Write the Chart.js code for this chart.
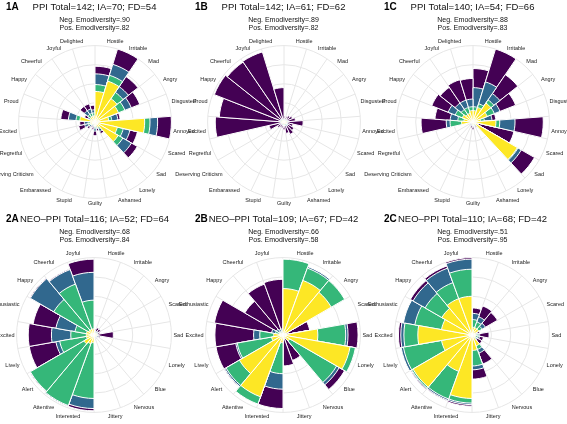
<!DOCTYPE html>
<html>
<head>
<meta charset="utf-8">
<script src="https://cdn.jsdelivr.net/npm/chart.js@4/dist/chart.umd.min.js"></script>
<style>
body { margin: 0; background: #fff; font-family: "Liberation Sans", Arial, sans-serif; }
#wrap { position: relative; width: 567px; height: 424px; overflow: hidden; }
.panel { position: absolute; width: 189px; height: 212px; }
.panel canvas { position: absolute; left: -18px; top: 0; }
.tag { position: absolute; left: 6px; top: 1px; font-weight: bold; font-size: 10px; }
</style>
</head>
<body>
<div id="wrap"></div>
<script>
// emotion categories
var ppiLabels = ['Hostile', 'Irritable', 'Mad', 'Angry', 'Disgusted', 'Annoyed', 'Scared', 'Sad', 'Lonely', 'Ashamed', 'Guilty', 'Stupid', 'Embarassed', 'Deserving Criticism', 'Regretful', 'Excited', 'Proud', 'Happy', 'Cheerful', 'Joyful', 'Delighted'];
var neoLabels = ['Hostile', 'Irritable', 'Angry', 'Scared', 'Sad', 'Lonely', 'Blue', 'Nervous', 'Jittery', 'Interested', 'Attentive', 'Alert', 'Lively', 'Excited', 'Enthusiastic', 'Happy', 'Cheerful', 'Joyful'];

// cumulative stack levels per panel (inner to outer: yellow, green, blue, purple)
var yellow1A = [40, 56, 37, 33, 18, 65, 30, 35, 8, 5, 6, 3, 3, 4, 6, 6, 20, 5, 8, 8, 8];
var green1A  = [49, 64, 47, 42, 22, 72, 38, 42, 10, 7, 8, 4, 4, 6, 9, 9, 25, 7, 12, 12, 12];
var blue1A   = [63, 79, 56, 51, 30, 82, 47, 55, 14, 9, 12, 6, 6, 9, 14, 14, 35, 10, 18, 18, 16];
var purple1A = [73, 100, 72, 63, 33, 100, 57, 64, 17, 12, 18, 10, 8, 12, 22, 20, 45, 15, 25, 25, 22];

var yellow1B = [2, 2, 2, 2, 3, 3, 2, 3, 3, 2, 2, 2, 2, 2, 2, 3, 3, 3, 2, 2, 2];
var green1B  = [3, 3, 3, 3, 4, 4, 3, 5, 5, 3, 3, 3, 3, 3, 3, 4, 4, 4, 3, 3, 3];
var blue1B   = [4, 4, 4, 4, 5, 5, 4, 6, 6, 4, 4, 4, 4, 4, 4, 5, 5, 5, 4, 4, 4];
var purple1B = [8, 8, 10, 12, 15, 25, 12, 15, 18, 15, 10, 8, 8, 10, 20, 90, 85, 98, 95, 96, 45];

var yellow1C = [15, 20, 30, 20, 10, 30, 3, 67, 3, 2, 3, 2, 2, 2, 2, 15, 12, 15, 12, 12, 15];
var green1C  = [20, 25, 35, 30, 15, 35, 4, 68, 4, 3, 4, 3, 3, 3, 3, 30, 20, 25, 20, 20, 20];
var blue1C   = [45, 55, 45, 38, 25, 55, 5, 73, 6, 4, 6, 5, 4, 4, 4, 35, 30, 35, 30, 30, 30];
var purple1C = [70, 100, 75, 60, 30, 92, 55, 93, 8, 5, 10, 8, 5, 5, 5, 68, 50, 58, 55, 58, 57];

var yellow2A = [3, 3, 3, 3, 3, 3, 2, 2, 2, 10, 12, 15, 10, 10, 10, 8, 8, 8];
var green2A  = [4, 4, 4, 4, 4, 4, 3, 3, 3, 82, 97, 95, 45, 30, 25, 60, 70, 45];
var blue2A   = [5, 5, 6, 5, 5, 6, 4, 4, 4, 95, 98, 95, 50, 55, 50, 95, 90, 81];
var purple2A = [8, 10, 10, 8, 25, 8, 5, 5, 5, 98, 98, 96, 85, 85, 80, 96, 91, 98];

var yellow2B = [60, 75, 72, 3, 45, 88, 10, 3, 3, 10, 85, 65, 15, 12, 5, 3, 3, 3];
var green2B  = [98, 92, 92, 4, 81, 95, 80, 4, 4, 50, 95, 85, 60, 30, 10, 5, 5, 5];
var blue2B   = [98, 94, 92, 5, 84, 95, 84, 5, 5, 70, 95, 87, 62, 38, 15, 10, 8, 8];
var purple2B = [98, 94, 92, 35, 97, 95, 92, 35, 40, 95, 95, 88, 88, 88, 90, 57, 70, 72];

var yellow2C = [10, 10, 10, 3, 5, 5, 3, 15, 20, 82, 50, 88, 40, 70, 40, 45, 50, 50];
var green2C  = [20, 18, 15, 5, 8, 8, 5, 20, 40, 88, 88, 90, 90, 88, 75, 70, 72, 85];
var blue2C   = [28, 25, 20, 6, 10, 10, 8, 25, 45, 90, 90, 91, 93, 92, 90, 88, 92, 98];
var purple2C = [35, 40, 38, 10, 22, 15, 15, 40, 57, 92, 91, 92, 93, 95, 90, 92, 95, 100];

var colors = ['#fde725', '#35b779', '#31688e', '#440154'];

var panels = [
    { tag: '1A', title: 'PPI Total=142; IA=70; FD=54', sub: ['Neg. Emodiversity=.90', 'Pos. Emodiversity=.82'], labels: ppiLabels, levels: [yellow1A, green1A, blue1A, purple1A] },
    { tag: '1B', title: 'PPI Total=142; IA=61; FD=62', sub: ['Neg. Emodiversity=.89', 'Pos. Emodiversity=.82'], labels: ppiLabels, levels: [yellow1B, green1B, blue1B, purple1B] },
    { tag: '1C', title: 'PPI Total=140; IA=54; FD=66', sub: ['Neg. Emodiversity=.88', 'Pos. Emodiversity=.83'], labels: ppiLabels, levels: [yellow1C, green1C, blue1C, purple1C] },
    { tag: '2A', title: 'NEO\u2013PPI Total=116; IA=52; FD=64', sub: ['Neg. Emodiversity=.68', 'Pos. Emodiversity=.84'], labels: neoLabels, levels: [yellow2A, green2A, blue2A, purple2A] },
    { tag: '2B', title: 'NEO\u2013PPI Total=109; IA=67; FD=42', sub: ['Neg. Emodiversity=.66', 'Pos. Emodiversity=.58'], labels: neoLabels, levels: [yellow2B, green2B, blue2B, purple2B] },
    { tag: '2C', title: 'NEO\u2013PPI Total=110; IA=68; FD=42', sub: ['Neg. Emodiversity=.51', 'Pos. Emodiversity=.95'], labels: neoLabels, levels: [yellow2C, green2C, blue2C, purple2C] }
];

var wrap = document.getElementById('wrap');
panels.forEach(function (p, k) {
    var div = document.createElement('div');
    div.className = 'panel';
    div.style.left = (k % 3) * 189 + 'px';
    div.style.top = Math.floor(k / 3) * 212 + 'px';
    div.innerHTML = '<canvas width="225" height="212"></canvas><div class="tag">' + p.tag + '</div>';
    wrap.appendChild(div);

    // dataset 0 is drawn last, so the innermost level sits on top
    var datasets = p.levels.map(function (lv, i) {
        return { data: lv, backgroundColor: colors[i], borderColor: '#fff', borderWidth: 1 };
    });

    new Chart(div.querySelector('canvas'), {
        type: 'polarArea',
        data: { labels: p.labels, datasets: datasets },
        options: {
            responsive: false,
            animation: false,
            layout: { padding: { left: 0, right: 0, bottom: 4 } },
            plugins: {
                legend: { display: false },
                tooltip: { enabled: false },
                title: { display: true, text: p.title, color: '#111', font: { size: 9.5, weight: 'normal', family: 'Liberation Sans' }, padding: { top: 2, bottom: 2 } },
                subtitle: { display: true, text: p.sub, color: '#111', font: { size: 7, family: 'Liberation Sans' }, padding: { bottom: 6 } }
            },
            scales: {
                r: {
                    min: 0,
                    max: 100,
                    ticks: { display: false, stepSize: 25 },
                    grid: { color: '#e6e6e6' },
                    angleLines: { display: true, color: '#e6e6e6' },
                    pointLabels: { display: true, centerPointLabels: true, color: '#222', padding: 2, font: { size: 5.5, family: 'Liberation Sans' } }
                }
            }
        }
    });
});
</script>
</body>
</html>
